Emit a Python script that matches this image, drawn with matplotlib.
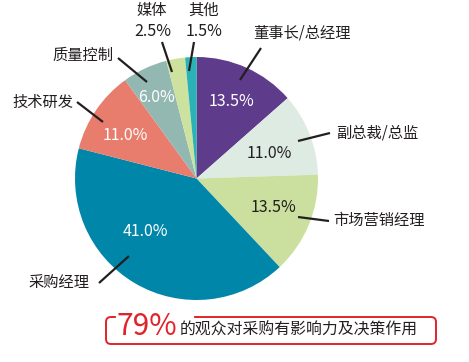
import matplotlib
matplotlib.use("Agg")
import matplotlib.pyplot as plt
from matplotlib.patches import FancyBboxPatch
from matplotlib.lines import Line2D

plt.rcParams['font.family'] = ['Noto Sans CJK SC', 'DejaVu Sans']

categories = ["董事长/总经理", "副总裁/总监", "市场营销经理", "采购经理", "技术研发", "质量控制", "媒体", "其他"]
values = [13.5, 11.0, 13.5, 41.0, 11.0, 6.0, 2.5, 1.5]
colors = ["#5e3b8b", "#deebe2", "#cbe09e", "#0086a9", "#e97d6d", "#93b8b2", "#cde29f", "#2ab3b6"]
pct_colors = ["white", "#231f20", "#231f20", "white", "white", "white", "#231f20", "#231f20"]
headline_value = "79%"
headline_text = "的观众对采购有影响力及决策作用"

W, H = 469, 362
fig = plt.figure(figsize=(W / 100, H / 100), dpi=100)
ax = fig.add_axes([0, 0, 1, 1])

def Y(y):
    return H - y

cx, cy, R = 196.5, 178.5, 121.5
ax.pie(values, colors=colors, startangle=90, counterclock=False,
       center=(cx, Y(cy)), radius=R, frame=True,
       wedgeprops=dict(linewidth=0))
ax.set_xlim(0, W)
ax.set_ylim(0, H)
ax.set_aspect('auto')
ax.axis('off')

dark = "#231f20"
# percentage label positions (layout, top-based pixel coords)
pct_pos = [(231.5, 102), (269.5, 153), (273.5, 208), (145.5, 232),
           (125, 135), (156.5, 98), (153, 32), (204.5, 32)]
for v, (px, py), c in zip(values, pct_pos, pct_colors):
    ax.text(px, Y(py), f"{v:.1f}%", ha='center', va='center', color=c, fontsize=11.5)

# category labels
lab_pos = [(302, 33, 'center'), (377, 133, 'center'), (378.5, 220, 'center'),
           (59, 283, 'center'), (43, 102, 'center'), (82.5, 55, 'center'),
           (152, 10, 'center'), (204, 10, 'center')]
for name, (lx, ly, ha) in zip(categories, lab_pos):
    ax.text(lx, Y(ly), name, ha=ha, va='center', color=dark, fontsize=11)

# leader lines
leaders = [((261, 48), (240, 80)), ((330, 133), (298, 141)), ((329, 221), (298, 217)),
           ((99, 283), (129, 256)), ((77, 102), (103, 122)), ((118, 58), (147, 82)),
           ((162, 42), (172, 72)), ((194, 42), (189, 71))]
for (x0, y0), (x1, y1) in leaders:
    ax.add_line(Line2D([x0, x1], [Y(y0), Y(y1)], color=dark, lw=1.6, solid_capstyle='butt'))

# headline box
red = "#e0242b"
box = FancyBboxPatch((106, Y(344)), 330, 27, boxstyle="round,pad=0,rounding_size=5",
                     facecolor='white', edgecolor=red, lw=1.4)
ax.add_patch(box)
# gap on top edge behind headline
ax.add_line(Line2D([118, 192], [Y(317), Y(317)], color='white', lw=3))
ax.text(117, Y(335), headline_value, ha='left', va='baseline', color=red, fontsize=21.5)
ax.text(180, Y(335), headline_text, ha='left', va='baseline', color=dark, fontsize=11.4)

fig.savefig("out.png", dpi=100)
